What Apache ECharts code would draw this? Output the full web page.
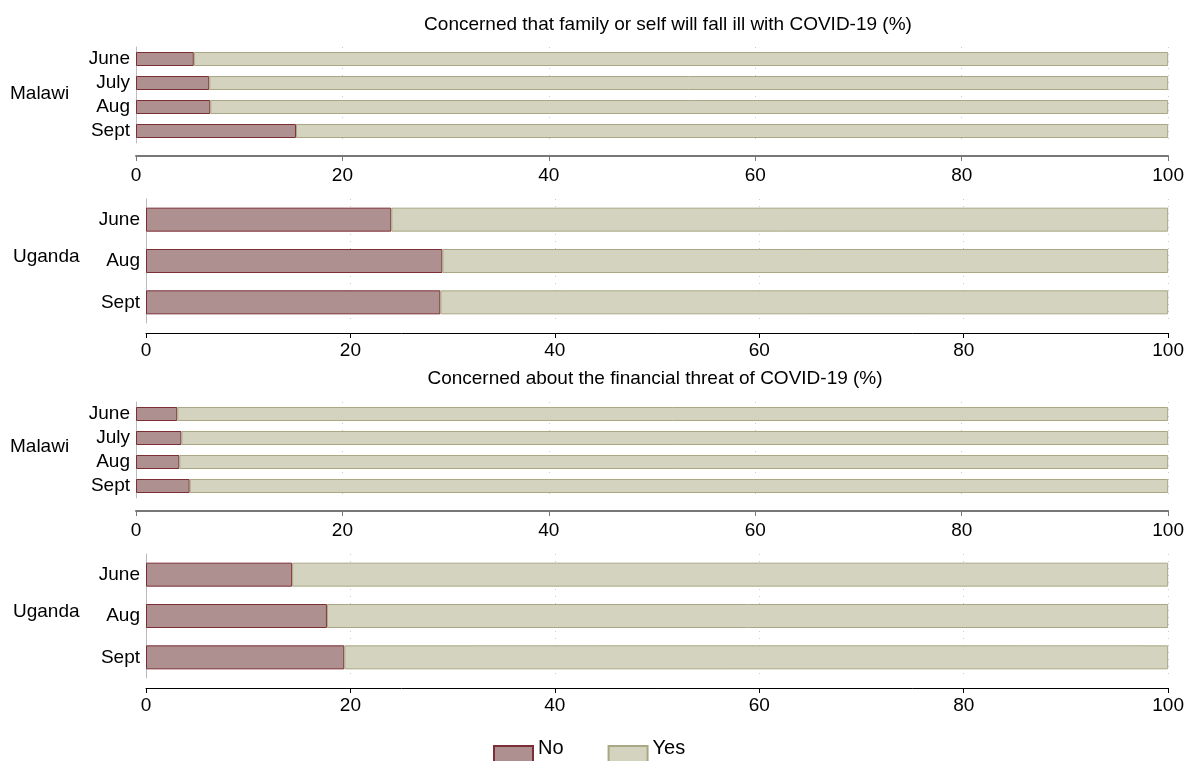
<!DOCTYPE html>
<html>
<head>
<meta charset="utf-8">
<script src="https://cdn.jsdelivr.net/npm/echarts@6/dist/echarts.min.js"></script>
<style>
  html, body { margin: 0; padding: 0; background: #fff; }
  #chart { width: 1187px; height: 761px; }
</style>
</head>
<body>
<div id="chart"></div>
<script>
// data
var malawiMonths = ['June', 'July', 'Aug', 'Sept'];
var ugandaMonths = ['June', 'Aug', 'Sept'];
var xTicks = [0, 20, 40, 60, 80, 100];

// fall ill with COVID-19 (% No)
var illMalawiNo = [5.6, 7.1, 7.2, 15.5];
var illUgandaNo = [24.0, 29.0, 28.8];
// financial threat (% No)
var finMalawiNo = [4.0, 4.4, 4.2, 5.2];
var finUgandaNo = [14.3, 17.7, 19.4];

function yes(arr) { return arr.map(function (v) { return +(100 - v).toFixed(1); }); }

var font = 'Liberation Sans, Arial, sans-serif';
var noColor = '#af9091', noBorder = '#7b2e35';
var yesColor = '#d3d3bf', yesBorder = '#aaa784';

// panel layout: grid top/height, axis offset, left, axis colour
var panels = [
  { cats: malawiMonths, no: illMalawiNo, top: 47, height: 96, offset: 13, left: 136, axisColor: '#777', axisWidth: 2, margin: 10, barWidth: 14, country: 'Malawi', cx: 10, cy: 95 },
  { cats: ugandaMonths, no: illUgandaNo, top: 199, height: 124, offset: 10, left: 146, axisColor: '#000', axisWidth: 1, margin: 8, barWidth: 24, country: 'Uganda', cx: 13, cy: 258 },
  { cats: malawiMonths, no: finMalawiNo, top: 402, height: 96, offset: 13, left: 136, axisColor: '#777', axisWidth: 2, margin: 10, barWidth: 14, country: 'Malawi', cx: 10, cy: 448 },
  { cats: ugandaMonths, no: finUgandaNo, top: 554, height: 124, offset: 10, left: 146, axisColor: '#000', axisWidth: 1, margin: 8, barWidth: 24, country: 'Uganda', cx: 13, cy: 613 }
];

var grids = [], xAxes = [], yAxes = [], series = [], graphics = [];
panels.forEach(function (p, i) {
  grids.push({ left: p.left, width: 1169 - p.left, top: p.top, height: p.height });
  xAxes.push({
    type: 'value', gridIndex: i, min: 0, max: 100, interval: 20, offset: p.offset,
    axisLine: { show: true, lineStyle: { color: p.axisColor, width: p.axisWidth } },
    axisTick: { show: true, length: 5, lineStyle: { color: p.axisColor } },
    axisLabel: { color: '#000', fontSize: 19, fontFamily: font, margin: p.margin,
      formatter: function (v) { return xTicks.indexOf(v) >= 0 ? String(v) : ''; } },
    splitLine: { show: true, lineStyle: { color: '#ccc', type: [1, 6], width: 1 } }
  });
  yAxes.push({
    type: 'category', gridIndex: i, data: p.cats, inverse: true,
    axisLine: { show: true, lineStyle: { color: '#bbb', width: 1 } },
    axisTick: { show: false },
    axisLabel: { color: '#000', fontSize: 19, fontFamily: font, margin: 6, interval: 0, hideOverlap: false }
  });
  series.push({
    name: 'No', type: 'bar', stack: 's' + i, xAxisIndex: i, yAxisIndex: i,
    data: p.no, barWidth: p.barWidth,
    itemStyle: { color: noColor, borderColor: noBorder, borderWidth: 1 }
  });
  series.push({
    name: 'Yes', type: 'bar', stack: 's' + i, xAxisIndex: i, yAxisIndex: i,
    data: yes(p.no), barWidth: p.barWidth,
    itemStyle: { color: yesColor, borderColor: yesBorder, borderWidth: 1 }
  });
  graphics.push({
    type: 'text', left: p.cx, top: p.cy - 11,
    style: { text: p.country, fill: '#000', font: '19px ' + font }
  });
});

var chart = echarts.init(document.getElementById('chart'));
chart.setOption({
  animation: false,
  title: [
    { text: 'Concerned that family or self will fall ill with COVID-19 (%)', left: 663, top: 10, textAlign: 'center',
      textStyle: { fontSize: 19, fontWeight: 'normal', color: '#000', fontFamily: font } },
    { text: 'Concerned about the financial threat of COVID-19 (%)', left: 650, top: 364, textAlign: 'center',
      textStyle: { fontSize: 19, fontWeight: 'normal', color: '#000', fontFamily: font } }
  ],
  legend: {
    data: ['No', 'Yes'], left: 488, top: 733, itemWidth: 39, itemHeight: 16, itemGap: 44,
    icon: 'rect',
    formatter: '{t|{name}}',
    textStyle: { fontSize: 20, color: '#000', fontFamily: font,
      rich: { t: { fontSize: 20, fontFamily: font, color: '#000', padding: [0, 0, 12, 0] } } }
  },
  grid: grids,
  xAxis: xAxes,
  yAxis: yAxes,
  series: series,
  graphic: graphics
});
</script>
</body>
</html>
